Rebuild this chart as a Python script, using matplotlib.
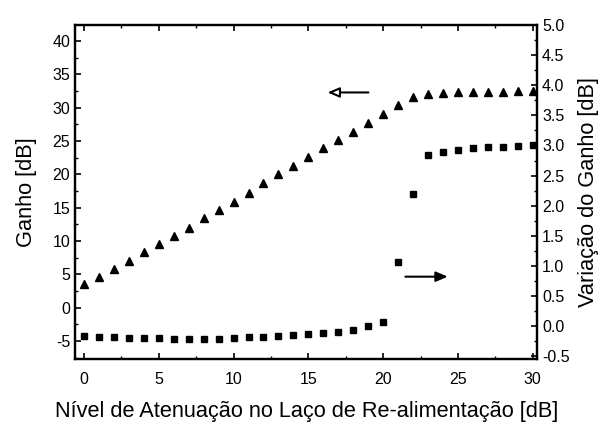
import matplotlib
matplotlib.use("Agg")
import matplotlib.pyplot as plt
from matplotlib.ticker import MultipleLocator, FormatStrFormatter

# attenuation in the feedback loop [dB]
atenuacao = list(range(0, 31))

# gain [dB], left axis
ganho = [3.6, 4.6, 5.8, 7.0, 8.4, 9.5, 10.8, 12.0, 13.4, 14.7,
         15.8, 17.2, 18.7, 20.0, 21.2, 22.6, 24.0, 25.1, 26.4, 27.7,
         29.0, 30.4, 31.6, 32.1, 32.2, 32.3, 32.3, 32.4, 32.4, 32.5, 32.5]

# gain variation [dB], right axis
variacao = [-0.17, -0.18, -0.19, -0.2, -0.2, -0.2, -0.21, -0.21, -0.21, -0.21,
            -0.2, -0.19, -0.18, -0.17, -0.15, -0.13, -0.12, -0.1, -0.06, 0.0,
            0.06, 1.06, 2.2, 2.85, 2.9, 2.93, 2.95, 2.97, 2.98, 2.99, 3.0]

plt.rcParams['font.family'] = ['Liberation Sans', 'DejaVu Sans']
plt.rcParams['axes.unicode_minus'] = False

fig = plt.figure(figsize=(6.05, 4.26), dpi=100)
ax1 = fig.add_axes([0.124, 0.157, 0.764, 0.784])
ax2 = ax1.twinx()

ax1.plot(atenuacao, ganho, '^', color='black', markersize=6, clip_on=False)
ax2.plot(atenuacao, variacao, 's', color='black', markersize=5, clip_on=False)

ax1.set_xlim(-0.6, 30.3)
ax1.set_ylim(-7.7, 42.4)
ax2.set_ylim(-0.55, 5.0)

ax1.xaxis.set_major_locator(MultipleLocator(5))
ax1.xaxis.set_minor_locator(MultipleLocator(2.5))
ax1.yaxis.set_major_locator(MultipleLocator(5))
ax1.yaxis.set_minor_locator(MultipleLocator(2.5))
ax2.yaxis.set_major_locator(MultipleLocator(0.5))
ax2.yaxis.set_minor_locator(MultipleLocator(0.25))
ax2.yaxis.set_major_formatter(FormatStrFormatter('%.1f'))

ax1.tick_params(axis='x', which='both', direction='in', top=True, labelsize=11.5)
ax1.tick_params(axis='x', which='major', pad=9)
ax1.tick_params(axis='y', which='both', direction='in', labelsize=11.5)
ax2.tick_params(axis='y', which='both', direction='in', labelsize=11.5)
for ax in (ax1, ax2):
    ax.tick_params(which='major', length=4, width=1.2)
    ax.tick_params(which='minor', length=2.5, width=1.0)
    for s in ax.spines.values():
        s.set_linewidth(1.6)

ax1.set_xlabel('Nível de Atenuação no Laço de Re-alimentação [dB]', fontsize=15.7, labelpad=10)
ax1.set_ylabel('Ganho [dB]', fontsize=15.7, labelpad=11)
ax2.set_ylabel('Variação do Ganho [dB]', fontsize=15.7, labelpad=6)

# arrows pointing each series to its axis
ax1.annotate('', xy=(16.1, 32.3), xytext=(19.2, 32.3),
             arrowprops=dict(arrowstyle='-|>,head_length=0.7,head_width=0.3',
                             fc='white', ec='black', lw=1.5))
ax2.annotate('', xy=(24.5, 0.82), xytext=(21.3, 0.82),
             arrowprops=dict(arrowstyle='-|>,head_length=0.7,head_width=0.3',
                             fc='black', ec='black', lw=1.5))

fig.savefig('out.png', dpi=100)
